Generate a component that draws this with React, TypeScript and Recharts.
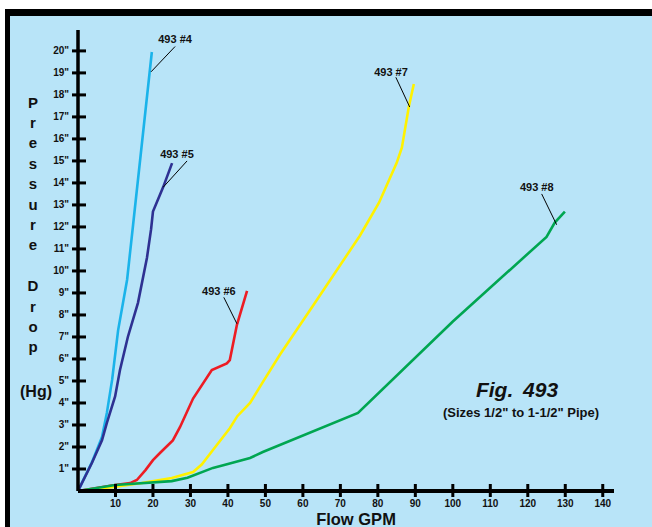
import { LineChart, Line, XAxis, YAxis, ReferenceLine, ReferenceDot } from "recharts";

const xTicks = [10, 20, 30, 40, 50, 60, 70, 80, 90, 100, 110, 120, 130, 140];
const yTicks = [1, 2, 3, 4, 5, 6, 7, 8, 9, 10, 11, 12, 13, 14, 15, 16, 17, 18, 19, 20];

// flow (GPM) / pressure drop (in. Hg) per valve size
const flow4 = [0, 3.7, 6.4, 7.7, 9.1, 10.7, 13.1, 14.7, 19.7];
const drop4 = [0, 1.3, 2.45, 3.55, 5.05, 7.3, 9.6, 12.1, 19.95];

const flow5 = [0, 3.7, 6.4, 7.7, 9.9, 11.2, 13.3, 16, 18.4, 19.5, 20, 22.7, 25.1];
const drop5 = [0, 1.27, 2.3, 3.1, 4.3, 5.5, 7.0, 8.55, 10.6, 11.9, 12.7, 13.8, 14.9];

const flow6 = [0, 9.9, 13.9, 15.7, 18, 20, 22, 25.3, 27.2, 30.7, 35.7, 39.7, 40.5, 42.4, 45.1];
const drop6 = [0, 0.27, 0.36, 0.5, 0.95, 1.4, 1.75, 2.3, 2.9, 4.2, 5.5, 5.8, 5.95, 7.55, 9.1];

const flow7 = [0, 10, 17, 25, 30.7, 33, 36, 40.5, 42.5, 45.9, 49.3, 53.9, 63, 75.2, 80.3, 85, 86.4, 88.3, 89.6];
const drop7 = [0, 0.2, 0.36, 0.59, 0.86, 1.2, 1.86, 2.85, 3.4, 4.0, 4.95, 6.2, 8.5, 11.6, 13.1, 14.9, 15.6, 17.5, 18.5];

const flow8 = [0, 9.9, 25, 29.2, 36, 39.5, 45.9, 49.3, 74.7, 100, 125, 127.2, 129.9];
const drop8 = [0, 0.27, 0.45, 0.6, 1.05, 1.2, 1.5, 1.77, 3.55, 7.7, 11.55, 12.2, 12.7];

const names = ["493 #4", "493 #5", "493 #6", "493 #7", "493 #8"];
const colors = ["#1ab3ea", "#2e3192", "#ed1c24", "#fff200", "#00a651"];
const flows = [flow4, flow5, flow6, flow7, flow8];
const drops = [drop4, drop5, drop6, drop7, drop8];

// callout text centres and leader lines, in data units
const tagAt = [[25.9, 20.55], [26.4, 15.3], [37.6, 9.1], [83.5, 19.05], [122.4, 13.8]];
const leaders = [
  [[19.5, 19.05], [25.9, 20.2]],
  [[22.7, 13.8], [29.1, 15.0]],
  [[38.9, 8.8], [42.4, 7.6]],
  [[84.8, 18.8], [88.5, 17.45]],
  [[123.7, 13.5], [127.7, 12.1]],
];

const yTitle = "Pressure Drop";
const font = "'Liberation Sans', Arial, Helvetica, sans-serif";

const XTick = (props: any) => {
  const { x, y, payload } = props;
  return (
    <g>
      <line x1={x} x2={x} y1={y - 7} y2={y + 6} stroke="#000" strokeWidth={3} />
      <text x={x} y={y + 12.5} textAnchor="middle" dominantBaseline="central"
        fontFamily={font} fontWeight="bold" fontSize={10} fill="#111">
        {payload.value}
      </text>
    </g>
  );
};

const YTick = (props: any) => {
  const { x, y, payload } = props;
  return (
    <g>
      <line x1={x - 6} x2={x + 8} y1={y} y2={y} stroke="#000" strokeWidth={3} />
      <text x={x - 9} y={y} textAnchor="end" dominantBaseline="central"
        fontFamily={font} fontWeight="bold" fontSize={10} fill="#111">
        {payload.value + '"'}
      </text>
    </g>
  );
};

export default function App() {
  const seriesData = flows.map((f, i) => f.map((x, j) => ({ x, y: drops[i][j] })));

  return (
    <div style={{ position: "absolute", left: 0, top: 0, width: 652, height: 527, background: "#fff", overflow: "hidden" }}>
      <div
        style={{
          position: "absolute",
          left: 5,
          top: 9,
          width: 670,
          height: 540,
          borderTop: "7px solid #000",
          borderLeft: "5px solid #000",
          background: "#b8e4f8",
        }}
      />
      <div style={{ position: "absolute", left: 0, top: 0 }}>
        <LineChart width={652} height={527} margin={{ top: 30, right: 38, left: 0, bottom: 0 }}>
          <XAxis
            type="number"
            dataKey="x"
            domain={[0, 143]}
            ticks={xTicks}
            interval={0}
            height={36}
            tickSize={0}
            tickMargin={0}
            tickLine={false}
            axisLine={{ stroke: "#000", strokeWidth: 4 }}
            tick={XTick}
            allowDataOverflow
          />
          <YAxis
            type="number"
            dataKey="y"
            domain={[0, 20.95]}
            ticks={yTicks}
            interval={0}
            width={78}
            tickSize={0}
            tickMargin={0}
            tickLine={false}
            axisLine={{ stroke: "#000", strokeWidth: 3.5 }}
            tick={YTick}
            allowDataOverflow
          />
          {seriesData.map((d, i) => (
            <Line
              key={names[i]}
              data={d}
              dataKey="y"
              name={names[i]}
              type="linear"
              stroke={colors[i]}
              strokeWidth={2.6}
              dot={false}
              isAnimationActive={false}
            />
          ))}
          {leaders.map((seg, i) => (
            <ReferenceLine
              key={"l" + i}
              segment={[{ x: seg[0][0], y: seg[0][1] }, { x: seg[1][0], y: seg[1][1] }]}
              stroke="#000"
              strokeWidth={1}
              ifOverflow="visible"
            />
          ))}
          {tagAt.map((p, i) => (
            <ReferenceDot
              key={"t" + i}
              x={p[0]}
              y={p[1]}
              r={0}
              ifOverflow="visible"
              shape={(s: any) => (
                <text x={s.cx} y={s.cy} textAnchor="middle" dominantBaseline="central"
                  fontFamily={font} fontWeight="bold" fontSize={11} fill="#111">
                  {names[i]}
                </text>
              )}
            />
          ))}
        </LineChart>
      </div>
      <svg width={652} height={527} style={{ position: "absolute", left: 0, top: 0, pointerEvents: "none" }}>
        {yTitle.split("").map((ch, i) =>
          ch === " " ? null : (
            <text key={i} x={33} y={102 + i * 20.4} textAnchor="middle" dominantBaseline="central"
              fontFamily={font} fontWeight="bold" fontSize={15} fill="#111">
              {ch}
            </text>
          )
        )}
        <text x={36} y={391} textAnchor="middle" dominantBaseline="central"
          fontFamily={font} fontWeight="bold" fontSize={16} fill="#111">
          (Hg)
        </text>
        <text x={517} y={389} textAnchor="middle" dominantBaseline="central"
          fontFamily={font} fontWeight="bold" fontStyle="italic" fontSize={21} wordSpacing={4} fill="#111">
          Fig. 493
        </text>
        <text x={521} y={412} textAnchor="middle" dominantBaseline="central"
          fontFamily={font} fontWeight="bold" fontSize={13} fill="#111">
          (Sizes 1/2" to 1-1/2" Pipe)
        </text>
        <text x={356} y={519} textAnchor="middle" dominantBaseline="central"
          fontFamily={font} fontWeight="bold" fontSize={16.5} fill="#111">
          Flow GPM
        </text>
      </svg>
    </div>
  );
}
